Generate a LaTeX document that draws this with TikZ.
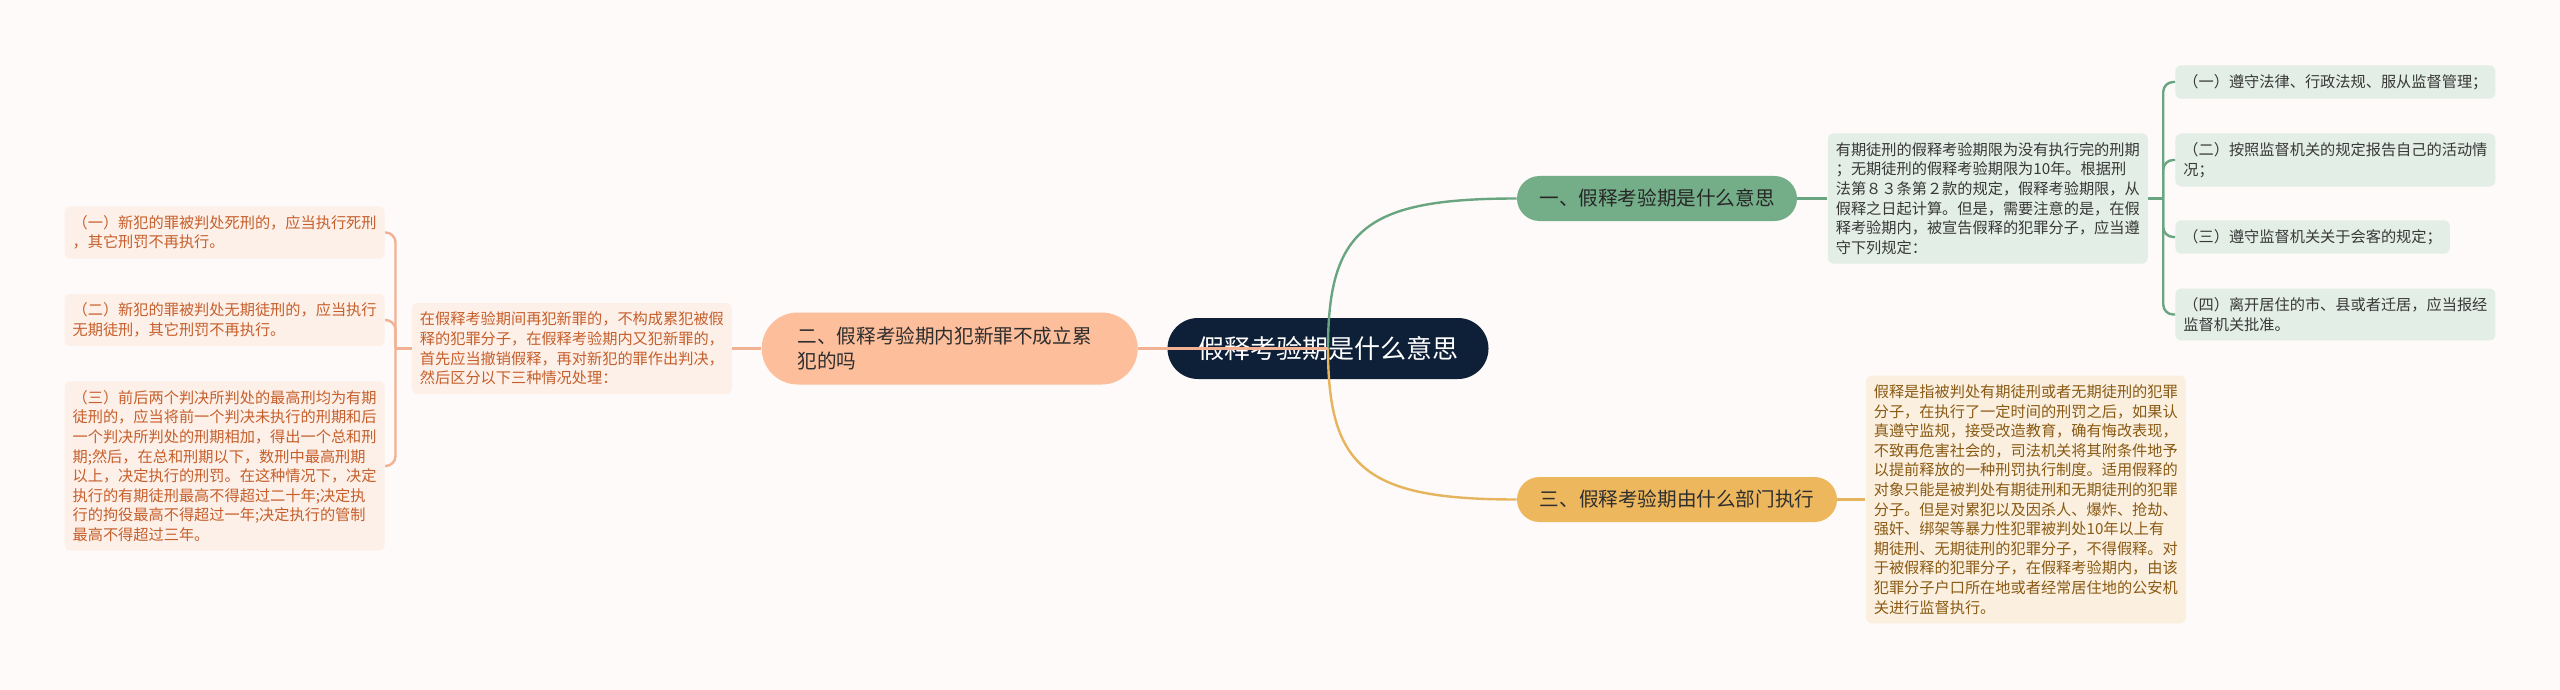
\documentclass[tikz,border=0pt]{standalone}
\usepackage{fontspec}
\setmainfont{Noto Sans CJK SC}
\usetikzlibrary{positioning,calc}

\definecolor{bg}{HTML}{FDFAF9}
\definecolor{navy}{HTML}{0E1F38}
\definecolor{grn}{HTML}{74AE88}
\definecolor{grnline}{HTML}{6AA581}
\definecolor{grnbox}{HTML}{E2EEE6}
\definecolor{sal}{HTML}{FDBE9B}
\definecolor{salline}{HTML}{F2B192}
\definecolor{salbox}{HTML}{FDF0E8}
\definecolor{saltext}{HTML}{C65F2C}
\definecolor{gld}{HTML}{EDB75E}
\definecolor{gldline}{HTML}{E6B45C}
\definecolor{gldbox}{HTML}{FBF0DF}
\definecolor{gldtext}{HTML}{8A5A14}

\tikzset{
  small/.style={font=\fontsize{7.6}{9.8}\selectfont, align=left, inner xsep=4pt, inner ysep=4.5pt, rounded corners=3pt},
  gbox/.style={small, fill=grnbox, text=black!78},
  sbox/.style={small, fill=salbox, text=saltext},
  ybox/.style={small, fill=gldbox, text=gldtext},
  branch/.style={font=\fontsize{9.8}{12.5}\selectfont, minimum height=22.5pt, rounded corners=11.25pt, inner sep=0pt},
  gl/.style={draw=grnline, line width=1.2pt},
  sl/.style={draw=salline, line width=1.2pt},
  yl/.style={draw=gldline, line width=1.2pt},
}

\begin{document}
\begin{tikzpicture}[x=0.5pt, y=-0.5pt]
  \fill[bg] (0,0) rectangle (2560,690);
  \useasboundingbox (0,0) rectangle (2560,690);

  \node[fill=navy, text=white, font=\fontsize{13}{15}\selectfont, minimum width=160.5pt, minimum height=30.5pt, rounded corners=15.25pt] (root) at (1328,348.5) {假释考验期是什么意思};

  \node[branch, fill=grn, text=black!85, minimum width=140pt] (b1) at (1657,198.5) {一、假释考验期是什么意思};
  \node[branch, fill=sal, text=black!82, minimum height=36pt, rounded corners=18pt, text width=152pt, align=left, inner xsep=18pt] (b2) [left=14.5pt of root] {二、假释考验期内犯新罪不成立累\\犯的吗};
  \node[branch, fill=gld, text=black!82, minimum width=160pt] (b3) at (1677,499.5) {三、假释考验期由什么部门执行};

  \node[gbox] (d1) [right=15pt of b1] {有期徒刑的假释考验期限为没有执行完的刑期\\；无期徒刑的假释考验期限为10年。根据刑\\法第８３条第２款的规定，假释考验期限，从\\假释之日起计算。但是，需要注意的是，在假\\释考验期内，被宣告假释的犯罪分子，应当遵\\守下列规定：};
  \node[sbox] (d2) [left=14.5pt of b2] {在假释考验期间再犯新罪的，不构成累犯被假\\释的犯罪分子，在假释考验期内又犯新罪的，\\首先应当撤销假释，再对新犯的罪作出判决，\\然后区分以下三种情况处理：};
  \node[ybox] (d3) [right=14pt of b3] {假释是指被判处有期徒刑或者无期徒刑的犯罪\\分子，在执行了一定时间的刑罚之后，如果认\\真遵守监规，接受改造教育，确有悔改表现，\\不致再危害社会的，司法机关将其附条件地予\\以提前释放的一种刑罚执行制度。适用假释的\\对象只能是被判处有期徒刑和无期徒刑的犯罪\\分子。但是对累犯以及因杀人、爆炸、抢劫、\\强奸、绑架等暴力性犯罪被判处10年以上有\\期徒刑、无期徒刑的犯罪分子，不得假释。对\\于被假释的犯罪分子，在假释考验期内，由该\\犯罪分子户口所在地或者经常居住地的公安机\\关进行监督执行。};

  \node[gbox, anchor=west] (g1) at (2175,82) {（一）遵守法律、行政法规、服从监督管理；};
  \node[gbox, anchor=west] (g2) at (2175,160) {（二）按照监督机关的规定报告自己的活动情\\况；};
  \node[gbox, anchor=west] (g3) at (2175,237) {（三）遵守监督机关关于会客的规定；};
  \node[gbox, anchor=west] (g4) at (2175,314.5) {（四）离开居住的市、县或者迁居，应当报经\\监督机关批准。};

  \node[sbox, anchor=east] (s1) at (385,232.5) {（一）新犯的罪被判处死刑的，应当执行死刑\\，其它刑罚不再执行。};
  \node[sbox, anchor=east] (s2) at (385,320) {（二）新犯的罪被判处无期徒刑的，应当执行\\无期徒刑，其它刑罚不再执行。};
  \node[sbox, anchor=east] (s3) at (385,466) {（三）前后两个判决所判处的最高刑均为有期\\徒刑的，应当将前一个判决未执行的刑期和后\\一个判决所判处的刑期相加，得出一个总和刑\\期;然后，在总和刑期以下，数刑中最高刑期\\以上，决定执行的刑罚。在这种情况下，决定\\执行的有期徒刑最高不得超过二十年;决定执\\行的拘役最高不得超过一年;决定执行的管制\\最高不得超过三年。};

  \coordinate (gj) at ($(d1.east)+(15,0)$);
  \coordinate (sj) at ($(d2.west)+(-16,0)$);

  \draw[gl] (root.center) .. controls +(0,-120) and +(-150,0) .. (b1.west);
  \draw[yl] (root.center) .. controls +(0,120) and +(-150,0) .. (b3.west);
  \draw[sl] (root.center) -- (b2.east);
  \draw[gl] (b1.east) -- (d1.west);
  \draw[sl] (b2.west) -- (d2.east);
  \draw[yl] (b3.east) -- (d3.west);
  \draw[gl] (d1.east) -- (gj);
  \draw[sl] (d2.west) -- (sj);
  \foreach \n in {g1,g2,g3,g4}
    \draw[gl, rounded corners=5pt] (gj) |- (\n.west);
  \foreach \n in {s1,s2,s3}
    \draw[sl, rounded corners=5pt] (sj) |- (\n.east);
\end{tikzpicture}
\end{document}
